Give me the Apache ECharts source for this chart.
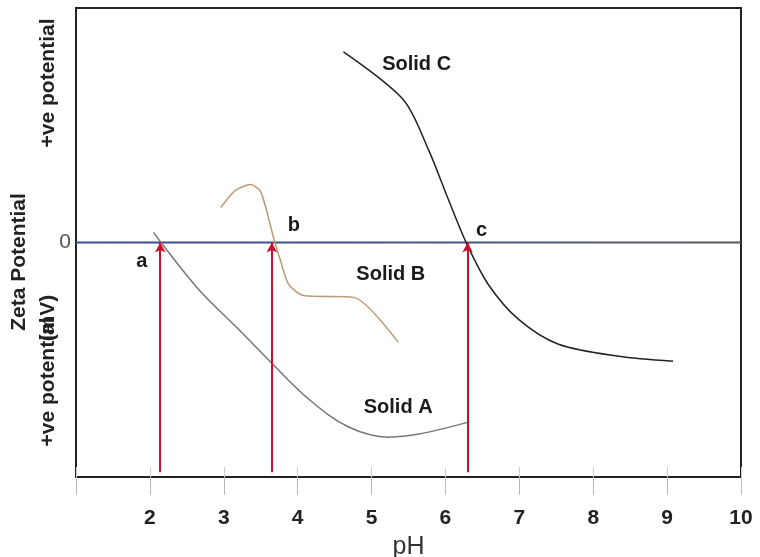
<!DOCTYPE html>
<html>
<head>
<meta charset="utf-8">
<script src="https://cdn.jsdelivr.net/npm/echarts@6/dist/echarts.min.js"></script>
<style>
  html, body { margin: 0; padding: 0; background: #fff; }
  #chart { width: 760px; height: 557px; }
</style>
</head>
<body>
<div id="chart"></div>
<script>
// pH ticks shown under the plot
const phTicks = [2, 3, 4, 5, 6, 7, 8, 9, 10]

// curves: [pH, zeta]
const solidA = [[2.05, 0.43], [2.15, 0], [2.66, -2.0], [3.2, -3.7], [3.65, -5.15],
  [4.15, -6.68], [4.69, -7.87], [5.23, -8.3], [5.64, -8.17], [6.31, -7.66]]
const solidB = [[2.96, 1.49], [3.15, 2.2], [3.36, 2.47], [3.5, 2.17], [3.68, 0.13],
  [3.77, -0.8], [3.88, -1.79], [4.08, -2.26], [4.76, -2.34], [5.36, -4.26]]
const solidC = [[4.62, 8.13], [5.43, 6.09], [5.77, 3.96], [6.04, 1.83], [6.28, 0],
  [6.58, -1.79], [6.99, -3.28], [7.53, -4.34], [8.34, -4.85], [9.08, -5.06]]
const zeroLine = [[1, 0], [10, 0]]

// isoelectric points a, b, c
const iepValues = [2.14, 3.65, 6.3]

const curveLabels = [
  { text: 'Solid A', value: [5.36, -7.02] },
  { text: 'Solid B', value: [5.26, -1.36] },
  { text: 'Solid C', value: [5.61, 7.57] },
  { text: 'a', value: [1.89, -0.81] },
  { text: 'b', value: [3.95, 0.72] },
  { text: 'c', value: [6.49, 0.51] }
]

const FONT = 'Liberation Sans, Arial, sans-serif'
const chart = echarts.init(document.getElementById('chart'))

const sideText = (text, x, y, size, weight) => ({
  type: 'text', x, y, rotation: Math.PI / 2,
  style: {
    text, fill: '#222', align: 'center', verticalAlign: 'middle',
    font: weight + ' ' + size + 'px ' + FONT
  }
})

const option = {
  animation: false,
  textStyle: { fontFamily: FONT },
  grid: {
    left: 76, right: 19, top: 8, bottom: 80,
    outerBoundsMode: 'none', containLabel: false,
    show: true, borderColor: '#222', borderWidth: 2
  },
  xAxis: [
    {
      type: 'value', min: 1, max: 10, interval: 1,
      name: 'pH', nameLocation: 'middle', nameGap: 58,
      nameTextStyle: { fontSize: 25, color: '#333' },
      axisLine: { onZero: false, lineStyle: { color: '#222', width: 2 } },
      axisTick: { inside: false, length: 18, lineStyle: { color: '#bbb', width: 1 } },
      axisLabel: {
        margin: 31, fontSize: 21, fontWeight: 'bold', color: '#222',
        formatter: v => (phTicks.includes(v) ? String(v) : '')
      },
      splitLine: { show: false }
    },
    {
      // short inner part of the tick marks
      type: 'value', min: 1, max: 10, interval: 1, position: 'bottom',
      axisLine: { show: false, onZero: false },
      axisTick: { inside: true, length: 10, lineStyle: { color: '#ccc', width: 1 } },
      axisLabel: { show: false },
      splitLine: { show: false }
    }
  ],
  yAxis: {
    type: 'value', min: -10, max: 10, interval: 10,
    axisLine: { show: true, onZero: false, lineStyle: { color: '#222', width: 2 } },
    axisTick: { show: false },
    axisLabel: {
      margin: 5, fontSize: 21, color: '#555',
      formatter: v => (v === 0 ? '0' : '')
    },
    splitLine: { show: false }
  },
  series: [
    {
      type: 'line', data: zeroLine, symbol: 'none', silent: true,
      lineStyle: {
        width: 2,
        color: new echarts.graphic.LinearGradient(0, 0, 1, 0, [
          { offset: 0, color: '#3d4a98' },
          { offset: 0.6, color: '#4a5580' },
          { offset: 1, color: '#555' }
        ])
      }
    },
    {
      name: 'Solid A', type: 'line', data: solidA, symbol: 'none', smooth: 0.35,
      lineStyle: { color: '#777', width: 1.5 }
    },
    {
      name: 'Solid B', type: 'line', data: solidB, symbol: 'none', smooth: 0.25,
      lineStyle: { color: '#bb9d72', width: 1.5 }
    },
    {
      name: 'Solid C', type: 'line', data: solidC, symbol: 'none', smooth: 0.3,
      lineStyle: { color: '#222', width: 1.5 }
    },
    {
      type: 'line', data: [], silent: true,
      markLine: {
        silent: true, animation: false,
        symbol: ['none', 'arrow'], symbolSize: [8, 10],
        label: { show: false },
        lineStyle: { color: '#c8102e', width: 2, type: 'solid' },
        data: iepValues.map(p => [{ coord: [p, -9.8] }, { coord: [p, 0] }])
      }
    },
    {
      type: 'scatter', symbolSize: 0, silent: true,
      itemStyle: { color: '#111', opacity: 1 },
      data: curveLabels.map(d => ({ value: d.value, name: d.text })),
      label: {
        show: true, position: 'inside', formatter: '{b}',
        color: '#1a1a1a', textBorderWidth: 0, opacity: 1,
        fontSize: 20, fontWeight: 'bold'
      }
    }
  ],
  graphic: [
    sideText('+ve potential', 48, 83, 21, 'bold'),
    sideText('Zeta Potential', 19, 262, 21, 'bold'),
    sideText('+ve potential', 48, 382, 21, 'bold'),
    sideText('(mV)', 48, 318, 21, 'bold')
  ]
}

chart.setOption(option)
</script>
</body>
</html>
